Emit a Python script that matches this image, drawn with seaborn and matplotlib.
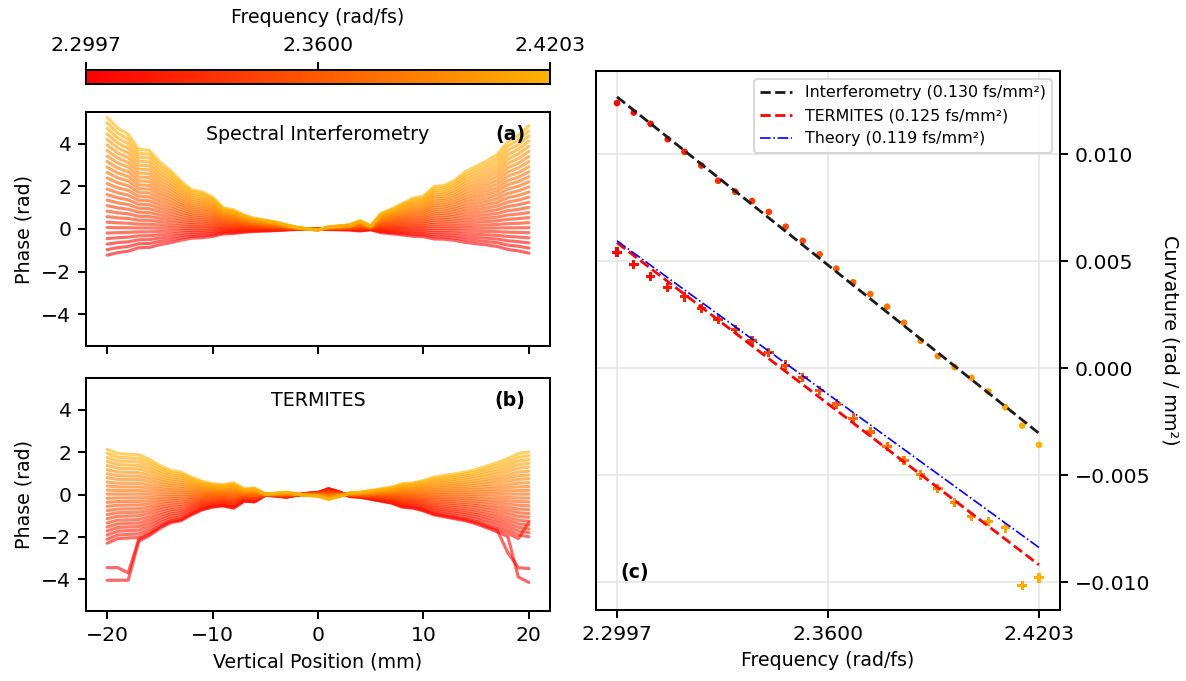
import numpy as np
import pandas as pd
import seaborn as sns
import matplotlib
matplotlib.use('Agg')
import matplotlib.pyplot as plt
from matplotlib.colors import ListedColormap, Normalize
from matplotlib.cm import ScalarMappable

# ---- values ----
frequencies = [2.2997, 2.3045, 2.3093, 2.3142, 2.3190, 2.3238, 2.3286, 2.3335,
               2.3383, 2.3431, 2.3479, 2.3528, 2.3576, 2.3624, 2.3672, 2.3721,
               2.3769, 2.3817, 2.3865, 2.3914, 2.3962, 2.4010, 2.4058, 2.4107,
               2.4155, 2.4203]
freq_ticks = [2.2997, 2.3600, 2.4203]

positions_mm = list(range(-20, 21))

# phase profile of the highest-frequency trace (rad), panel (a)
si_profile = [5.25, 4.75, 4.45, 3.75, 3.70, 3.15, 2.75, 2.25, 1.85, 1.75, 1.50,
              1.00, 0.90, 0.65, 0.50, 0.42, 0.33, 0.20, 0.08, 0.00, -0.05,
              0.10, 0.15, 0.20, 0.40, 0.15, 0.75, 0.95, 1.20, 1.45, 1.55,
              2.00, 2.05, 2.30, 2.70, 2.95, 3.20, 3.50, 4.10, 4.40, 4.85]
# phase at -20 mm for every frequency, panel (a)
si_edge_phase = [-1.23, -0.97, -0.71, -0.45, -0.19, 0.07, 0.32, 0.58, 0.84, 1.10,
                 1.36, 1.62, 1.88, 2.14, 2.40, 2.66, 2.91, 3.17, 3.43, 3.69,
                 3.95, 4.21, 4.47, 4.73, 4.99, 5.25]

# same for panel (b)
termites_profile = [2.13, 1.93, 1.90, 1.88, 1.66, 1.37, 1.14, 1.06, 0.82, 0.62, 0.51,
                    0.46, 0.55, 0.27, 0.30, 0.03, 0.06, 0.11, 0.03, -0.05, -0.08,
                    -0.24, -0.11, 0.08, 0.11, 0.19, 0.27, 0.35, 0.51, 0.55, 0.66,
                    0.82, 0.90, 0.98, 1.06, 1.18, 1.34, 1.50, 1.69, 1.93, 2.01]
termites_edge_phase = [-2.50, -2.40, -2.30, -2.11, -1.91, -1.72, -1.53, -1.34, -1.14,
                       -0.95, -0.76, -0.56, -0.37, -0.18, 0.02, 0.21, 0.40, 0.59,
                       0.79, 0.98, 1.17, 1.37, 1.56, 1.75, 1.94, 2.13]
# broken samples at the edges of the lowest-frequency TERMITES traces
termites_glitches = {
    0: {-20: -4.05, -19: -4.05, -18: -4.05, 19: -3.90, 20: -4.15},
    1: {-20: -3.45, -19: -3.45, -18: -3.70, 18: -2.75, 19: -3.45, 20: -3.50},
    2: {20: -1.30},
}

# curvature per frequency (rad / mm^2), panel (c)
curv_interf = [0.01240, 0.01196, 0.01143, 0.01071, 0.01012, 0.00948, 0.00877,
               0.00826, 0.00782, 0.00731, 0.00662, 0.00596, 0.00533, 0.00466,
               0.00402, 0.00347, 0.00288, 0.00213, 0.00129, 0.00057, 0.00006,
               -0.00044, -0.00108, -0.00182, -0.00268, -0.00358]
curv_termites = [0.00543, 0.00486, 0.00429, 0.00378, 0.00334, 0.00280, 0.00229,
                 0.00181, 0.00128, 0.00074, 0.00015, -0.00042, -0.00105, -0.00167,
                 -0.00233, -0.00298, -0.00365, -0.00431, -0.00498, -0.00563,
                 -0.00628, -0.00692, -0.00717, -0.00746, -0.01015, -0.00980]

# linear fits, value at first and last frequency
fit_freq = [2.2997, 2.4203]
fit_interf = [0.01269, -0.00304]
fit_termites = [0.00587, -0.00919]
fit_theory = [0.00596, -0.00838]

# ---- build long tables for seaborn ----
def make_traces(profile, edge_phase, glitches=None):
    rows = []
    for i, (f, edge) in enumerate(zip(frequencies, edge_phase)):
        scale = edge / profile[0]
        for x, p in zip(positions_mm, profile):
            val = p * scale
            if glitches and i in glitches and x in glitches[i]:
                val = glitches[i][x]
            rows.append({'position': x, 'phase': val, 'freq': f})
    return pd.DataFrame(rows)

si_df = make_traces(si_profile, si_edge_phase)
termites_df = make_traces(termites_profile, termites_edge_phase, termites_glitches)

# ---- style ----
sns.set_theme(style='ticks')
plt.rcParams['font.family'] = ['DejaVu Sans']
plt.rcParams.update({
    'font.size': 10, 'axes.labelsize': 10.3, 'xtick.labelsize': 11,
    'ytick.labelsize': 11, 'axes.edgecolor': 'black', 'axes.linewidth': 1.1,
    'xtick.color': 'black', 'ytick.color': 'black', 'text.color': 'black',
    'axes.labelcolor': 'black', 'xtick.major.width': 1.1, 'ytick.major.width': 1.1,
    'xtick.major.size': 4.5, 'ytick.major.size': 4.5,
})

cmap = ListedColormap(plt.cm.autumn(np.linspace(0, 0.7, 256)))
norm = Normalize(vmin=frequencies[0], vmax=frequencies[-1])

W, H = 1186, 681
fig = plt.figure(figsize=(W / 133, H / 133), dpi=133)

def px_axes(x0, y0, x1, y1):
    return fig.add_axes([x0 / W, 1 - y1 / H, (x1 - x0) / W, (y1 - y0) / H])

cax = px_axes(86, 70, 550, 84)
ax_a = px_axes(86, 112, 550, 346)
ax_b = px_axes(86, 378, 550, 611)
ax_c = px_axes(596, 71, 1060, 610)

# colorbar
cb = fig.colorbar(ScalarMappable(norm=norm, cmap=cmap), cax=cax, orientation='horizontal')
cb.set_ticks(freq_ticks)
cb.set_ticklabels(['%.4f' % t for t in freq_ticks])
cax.xaxis.set_ticks_position('top')
cax.xaxis.set_label_position('top')
cb.set_label('Frequency (rad/fs)', labelpad=7)
cb.outline.set_linewidth(1.1)

# panels (a) and (b)
for ax, df, title, tag in [(ax_a, si_df, 'Spectral Interferometry', '(a)'),
                           (ax_b, termites_df, 'TERMITES', '(b)')]:
    sns.lineplot(data=df, x='position', y='phase', hue='freq', units='freq',
                 estimator=None, palette=cmap, hue_norm=norm, legend=False,
                 sort=False, lw=1.7, alpha=0.6, ax=ax)
    ax.set_xlim(-22, 22)
    ax.set_ylim(-5.5, 5.5)
    ax.set_xticks([-20, -10, 0, 10, 20])
    ax.set_yticks([-4, -2, 0, 2, 4])
    ax.set_ylabel('Phase (rad)')
    ax.text(0.5, 0.905, title, transform=ax.transAxes, ha='center', va='center',
            fontsize=10.3)
    ax.text(0.947, 0.905, tag, transform=ax.transAxes, ha='right', va='center',
            fontweight='bold', fontsize=10.3)

ax_a.set_xlabel('')
ax_a.tick_params(labelbottom=False)
ax_b.set_xlabel('Vertical Position (mm)')

# panel (c)
ax_c.grid(True, color='0.9', lw=0.9)
ax_c.set_axisbelow(True)
ax_c.plot(fit_freq, fit_interf, 'k--', lw=1.5, label='Interferometry (0.130 fs/mm²)')
ax_c.plot(fit_freq, fit_termites, color='red', ls='--', lw=1.5,
          label='TERMITES (0.125 fs/mm²)')
ax_c.plot(fit_freq, fit_theory, color='blue', ls='-.', lw=0.9,
          label='Theory (0.119 fs/mm²)')
sns.scatterplot(x=frequencies, y=curv_interf, hue=frequencies, palette=cmap,
                hue_norm=norm, marker='o', s=13, linewidth=0, legend=False, ax=ax_c)
sns.scatterplot(x=frequencies, y=curv_termites, hue=frequencies, palette=cmap,
                hue_norm=norm, marker='P', s=26, linewidth=0, legend=False, ax=ax_c)
ax_c.set_xticks(freq_ticks)
ax_c.set_xticklabels(['%.4f' % t for t in freq_ticks])
ax_c.set_xlim(2.2937, 2.4263)
ax_c.set_ylim(-0.0113, 0.0139)
ax_c.set_yticks([-0.010, -0.005, 0.0, 0.005, 0.010])
ax_c.yaxis.tick_right()
ax_c.yaxis.set_label_position('right')
ax_c.set_ylabel('Curvature (rad / mm²)', rotation=270, labelpad=16)
ax_c.set_xlabel('Frequency (rad/fs)')
ax_c.text(0.052, 0.069, '(c)', transform=ax_c.transAxes, ha='left', va='center',
          fontweight='bold', fontsize=10.3)
leg = ax_c.legend(loc='upper right', fontsize=8.6, frameon=True, fancybox=True,
                  edgecolor='0.8', framealpha=0.8)

fig.savefig('out.png', dpi=133)
